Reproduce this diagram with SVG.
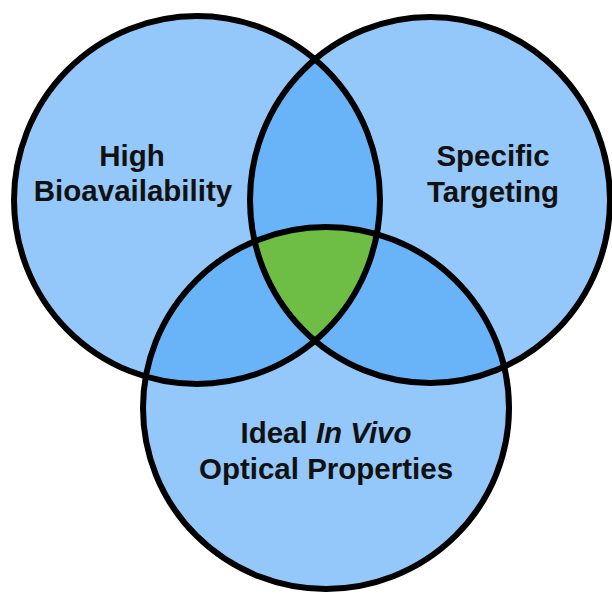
<svg xmlns="http://www.w3.org/2000/svg" xmlns:xlink="http://www.w3.org/1999/xlink" width="612" height="594" viewBox="0 0 612 594">
  <style>
    .base { fill: #94C8FA; stroke: none; }
    .pair { fill: #69B3F8; stroke: none; }
    .triple { fill: #6EBD44; stroke: none; }
    .outline { fill: none; stroke: #000000; stroke-width: 6; }
    .label { font-family: "Liberation Sans", Arial, Helvetica, sans-serif; font-weight: bold; font-size: 29.5px; fill: #111111; text-anchor: middle; }
  </style>
  <defs>
    <ellipse id="cA" cx="197" cy="200" rx="183" ry="184"/>
    <ellipse id="cB" cx="430" cy="200" rx="180" ry="183"/>
    <ellipse id="cC" cx="326" cy="408" rx="183" ry="181"/>
    <clipPath id="clipA"><use xlink:href="#cA"/></clipPath>
    <clipPath id="clipB"><use xlink:href="#cB"/></clipPath>
    <clipPath id="clipC"><use xlink:href="#cC"/></clipPath>
  </defs>
  <rect width="612" height="594" fill="#FFFFFF"/>
  <g id="region-fills">
    <use xlink:href="#cA" class="base"/>
    <use xlink:href="#cB" class="base"/>
    <use xlink:href="#cC" class="base"/>
    <g clip-path="url(#clipA)"><use xlink:href="#cB" class="pair"/></g>
    <g clip-path="url(#clipA)"><use xlink:href="#cC" class="pair"/></g>
    <g clip-path="url(#clipB)"><use xlink:href="#cC" class="pair"/></g>
    <g clip-path="url(#clipA)"><g clip-path="url(#clipB)"><use xlink:href="#cC" class="triple"/></g></g>
  </g>
  <g id="connectors"></g>
  <g id="node-bioavailability">
    <use xlink:href="#cA" class="outline"/>
    <text class="label" x="132" y="166">High</text>
    <text class="label" x="133" y="201">Bioavailability</text>
  </g>
  <g id="node-targeting">
    <use xlink:href="#cB" class="outline"/>
    <text class="label" x="493" y="166">Specific</text>
    <text class="label" x="493" y="202">Targeting</text>
  </g>
  <g id="node-optical">
    <use xlink:href="#cC" class="outline"/>
    <text class="label" x="326" y="443">Ideal <tspan font-style="italic">In Vivo</tspan></text>
    <text class="label" x="326" y="479">Optical Properties</text>
  </g>
</svg>
